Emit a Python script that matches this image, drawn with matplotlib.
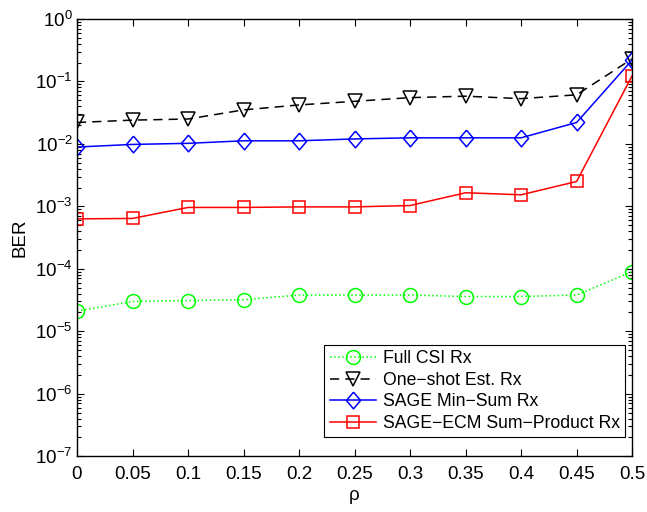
import matplotlib
matplotlib.use("Agg")
import matplotlib.pyplot as plt
from matplotlib.ticker import LogLocator, NullFormatter

plt.rcParams["font.family"] = ["Liberation Sans", "DejaVu Sans"]

rho = [0, 0.05, 0.1, 0.15, 0.2, 0.25, 0.3, 0.35, 0.4, 0.45, 0.5]
ber_full_csi = [2.1e-5, 3.0e-5, 3.1e-5, 3.2e-5, 3.8e-5, 3.8e-5, 3.8e-5, 3.6e-5, 3.6e-5, 3.8e-5, 9.0e-5]
ber_one_shot = [0.022, 0.024, 0.025, 0.035, 0.042, 0.048, 0.055, 0.058, 0.053, 0.061, 0.23]
ber_sage_minsum = [0.0089, 0.0098, 0.0102, 0.0112, 0.0112, 0.012, 0.0125, 0.0125, 0.0125, 0.022, 0.22]
ber_sage_ecm = [6.3e-4, 6.4e-4, 9.6e-4, 9.6e-4, 9.8e-4, 9.8e-4, 1.03e-3, 1.65e-3, 1.53e-3, 2.5e-3, 0.123]

xticks = [0, 0.05, 0.1, 0.15, 0.2, 0.25, 0.3, 0.35, 0.4, 0.45, 0.5]
xticklabels = ["0", "0.05", "0.1", "0.15", "0.2", "0.25", "0.3", "0.35", "0.4", "0.45", "0.5"]

# MATLAB-style diamond, slightly taller than wide
diamond = [(0, 1), (0.85, 0), (0, -1), (-0.85, 0), (0, 1)]

fig = plt.figure(figsize=(6.47, 5.12), dpi=100)
ax = fig.add_axes([0.119, 0.109, 0.858, 0.854])

lw = 1.1
ax.semilogy(rho, ber_full_csi, linestyle=":", color=(0, 1, 0), marker="o", markersize=10,
            markerfacecolor="none", markeredgewidth=lw, linewidth=lw, label="Full CSI Rx")
ax.semilogy(rho, ber_one_shot, linestyle=(0, (6, 4)), color="k", marker="v", markersize=10,
            markerfacecolor="none", markeredgewidth=lw, linewidth=lw, label="One\u2212shot Est. Rx")
ax.semilogy(rho, ber_sage_minsum, linestyle="-", color=(0, 0, 1), marker=diamond, markersize=12,
            markerfacecolor="none", markeredgewidth=lw, linewidth=lw, label="SAGE Min\u2212Sum Rx")
ax.semilogy(rho, ber_sage_ecm, linestyle="-", color=(1, 0, 0), marker="s", markersize=9,
            markerfacecolor="none", markeredgewidth=lw, linewidth=lw, label="SAGE\u2212ECM Sum\u2212Product Rx")

ax.set_xlim(0, 0.5)
ax.set_ylim(1e-7, 1)
ax.set_xticks(xticks)
ax.set_xticklabels(xticklabels)
ax.yaxis.set_major_locator(LogLocator(base=10, numticks=10))
ax.yaxis.set_minor_locator(LogLocator(base=10, subs=range(2, 10), numticks=20))
ax.yaxis.set_minor_formatter(NullFormatter())
ax.tick_params(which="both", direction="in", top=True, right=True, labelsize=13.5, width=0.8)
ax.tick_params(which="major", length=5)
ax.tick_params(which="minor", length=3)
ax.tick_params(axis="x", pad=7)
ax.tick_params(axis="y", pad=3)
for s in ax.spines.values():
    s.set_linewidth(1.0)

ax.set_xlabel("\u03c1", fontsize=13.5, labelpad=3)
ax.set_ylabel("BER", fontsize=13.5, labelpad=5)

leg = ax.legend(loc="lower right", bbox_to_anchor=(625 / 647, 1 - 437 / 512),
                bbox_transform=fig.transFigure, fontsize=12.7, fancybox=False, edgecolor="k",
                framealpha=1, borderaxespad=0, handlelength=2.6, labelspacing=0.25,
                borderpad=0.3, handletextpad=0.4)
leg.get_frame().set_linewidth(0.8)

fig.savefig("out.png", dpi=100)
plt.close(fig)
